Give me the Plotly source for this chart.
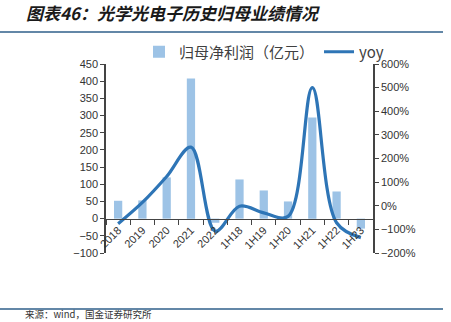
import plotly.graph_objects as go

categories = ["2018", "2019", "2020", "2021", "2022", "1H18", "1H19", "1H20", "1H21", "1H22", "1H23"]
profit = [52, 53, 120, 408, -12, 114, 82, 50, 294, 79, -29]
yoy = [-76, 14, 124, 248, -108, -2, -30, -45, 500, -72, -135]

bar_color = "#9DC3E6"
line_color = "#2E75B6"
fam = "Liberation Sans, Noto Sans CJK SC, sans-serif"
cjk = "Noto Sans CJK SC, sans-serif"

W, H = 451, 322
L, R, T, B = 106, 78, 64, 69
pw, ph = W - L - R, H - T - B

def px_x(x):
    return (x - L) / pw

def px_y(y):
    return (H - B - y) / ph

fig = go.Figure()
fig.add_trace(go.Bar(
    x=categories, y=profit, name="归母净利润（亿元）",
    marker=dict(color=bar_color, line=dict(width=0)),
    yaxis="y",
))
fig.add_trace(go.Scatter(
    x=categories, y=yoy, name="yoy", mode="lines",
    line=dict(color=line_color, width=3.2, shape="spline", smoothing=1.0),
    yaxis="y2",
))

fig.update_layout(
    width=W, height=H,
    margin=dict(l=L, r=R, t=T, b=B),
    paper_bgcolor="white", plot_bgcolor="white",
    font=dict(family=fam, size=11, color="#333333"),
    bargap=0.66,
    showlegend=True,
    legend=dict(
        orientation="h", x=px_x(264), xanchor="center", y=px_y(52), yanchor="middle",
        font=dict(family=cjk, size=15, color="#404040"),
        bgcolor="rgba(0,0,0,0)", itemwidth=30, tracegroupgap=0,
    ),
    xaxis=dict(
        anchor="free", position=100 / 550,
        showline=True, linecolor="#444444", linewidth=1,
        ticks="outside", ticklen=5, tickcolor="#444444", tickson="boundaries",
        tickangle=-45, tickfont=dict(size=11, color="#333333"),
        showgrid=False, zeroline=False,
    ),
    yaxis=dict(
        range=[-100, 450], dtick=50,
        showline=True, linecolor="#444444", linewidth=1.5,
        ticks="outside", ticklen=4, tickcolor="#444444",
        tickfont=dict(size=11, color="#333333"),
        showgrid=False, zeroline=False,
    ),
    yaxis2=dict(
        range=[-200, 600], dtick=100, ticksuffix="%",
        overlaying="y", side="right",
        showline=True, linecolor="#444444", linewidth=1.5,
        ticks="outside", ticklen=4, tickcolor="#444444",
        tickfont=dict(size=11, color="#333333"),
        showgrid=False, zeroline=False,
    ),
)

# header/footer rules
fig.add_shape(type="line", xref="paper", yref="paper",
              x0=px_x(0), x1=px_x(443), y0=px_y(32), y1=px_y(32),
              line=dict(color="#2F5F8A", width=1.5))
fig.add_shape(type="line", xref="paper", yref="paper",
              x0=px_x(0), x1=px_x(443), y0=px_y(309), y1=px_y(309),
              line=dict(color="#2F5F8A", width=1.5))

fig.add_annotation(
    text="<b><i>图表46：光学光电子历史归母业绩情况</i></b>",
    xref="paper", yref="paper", x=px_x(24), y=px_y(12.5),
    xanchor="left", yanchor="middle", showarrow=False,
    font=dict(family=cjk, size=17, color="#1a1a1a"),
)
fig.add_annotation(
    text="来源：wind，国金证券研究所",
    xref="paper", yref="paper", x=px_x(24), y=px_y(321.5),
    xanchor="left", yanchor="bottom", showarrow=False, borderpad=0,
    font=dict(family=cjk, size=9.5, color="#333333"),
)

fig.write_html("out.html")
